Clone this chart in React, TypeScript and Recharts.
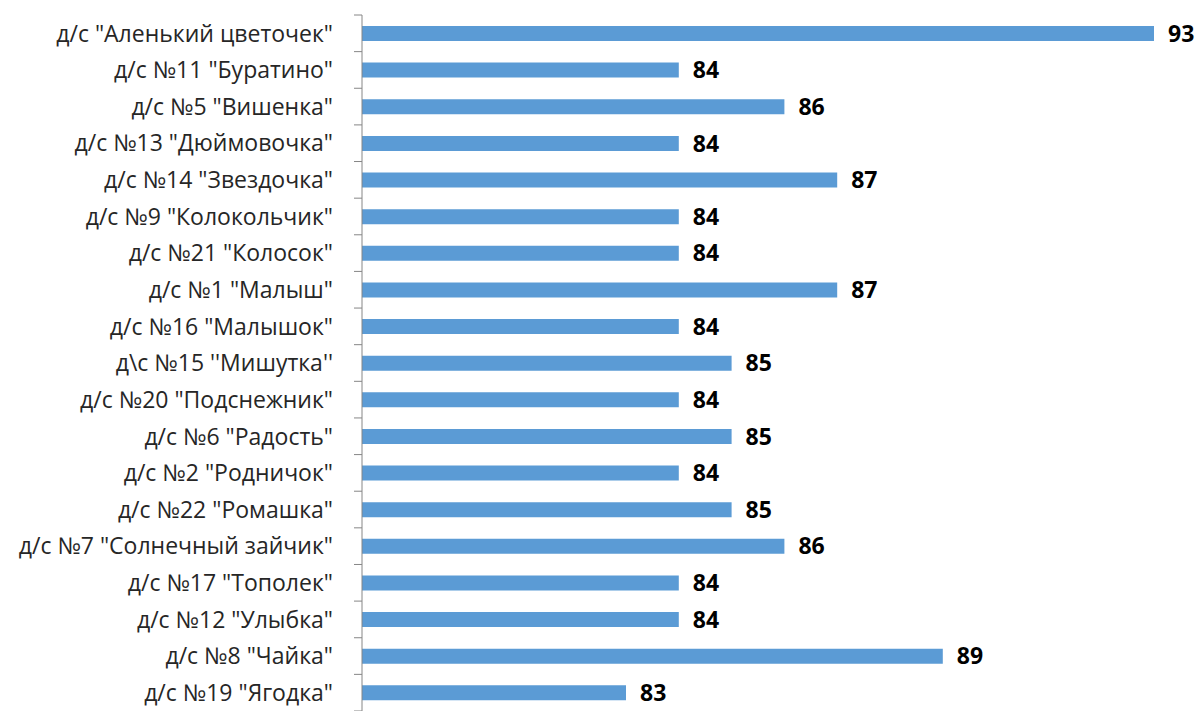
import { Bar, BarChart, LabelList, XAxis, YAxis } from "recharts";

const kindergartens = [
  'д/с "Аленький цветочек"',
  'д/с №11 "Буратино"',
  'д/с №5 "Вишенка"',
  'д/с №13 "Дюймовочка"',
  'д/с №14 "Звездочка"',
  'д/с №9 "Колокольчик"',
  'д/с №21 "Колосок"',
  'д/с №1 "Малыш"',
  'д/с №16 "Малышок"',
  "д\\с №15 ''Мишутка''",
  'д/с №20 "Подснежник"',
  'д/с №6 "Радость"',
  'д/с №2 "Родничок"',
  'д/с №22 "Ромашка"',
  'д/с №7 "Солнечный зайчик"',
  'д/с №17 "Тополек"',
  'д/с №12 "Улыбка"',
  'д/с №8 "Чайка"',
  'д/с №19 "Ягодка"',
];

const scores = [93, 84, 86, 84, 87, 84, 84, 87, 84, 85, 84, 85, 84, 85, 86, 84, 84, 89, 83];

const valueDomain: [number, number] = [78, 93];

const W = 1200;
const H = 711;
const TOP = 15;
const AXIS_W = 362;
const BAND = (H - TOP) / kindergartens.length;
const FONT = "'Open Sans', 'Noto Sans', sans-serif";

/** Category label + a tick mark at the band's upper boundary (Excel style). */
function CategoryTick(props: any) {
  const { x, y, payload, index } = props;
  const axisX = x + 29;
  return (
    <g>
      <line x1={axisX - 8} x2={axisX} y1={y - BAND / 2} y2={y - BAND / 2} stroke="#868686" />
      {index === kindergartens.length - 1 && (
        <line x1={axisX - 8} x2={axisX} y1={y + BAND / 2} y2={y + BAND / 2} stroke="#868686" />
      )}
      <text
        x={x}
        y={y}
        dy="0.36em"
        textAnchor="end"
        fill="#262626"
        fontSize={23}
        fontFamily={FONT}
      >
        {payload.value}
      </text>
    </g>
  );
}

export default function App() {
  const data = kindergartens.map((name, i) => ({ name, score: scores[i] }));

  return (
    <div style={{ position: "absolute", left: 0, top: 0, width: W, height: H, background: "#fff" }}>
      <BarChart
        width={W}
        height={H}
        data={data}
        layout="vertical"
        barCategoryGap="30%"
        margin={{ top: TOP, right: W - 1154, bottom: 0, left: 0 }}
      >
        <XAxis type="number" domain={valueDomain} allowDataOverflow hide />
        <YAxis
          type="category"
          dataKey="name"
          width={AXIS_W}
          interval={0}
          axisLine={{ stroke: "#868686" }}
          tickLine={false}
          tickSize={8}
          tickMargin={21}
          tick={<CategoryTick />}
        />
        <Bar dataKey="score" fill="#5B9BD5" isAnimationActive={false}>
          <LabelList
            dataKey="score"
            position="right"
            offset={14}
            fill="#000"
            fontSize={23}
            fontWeight="bold"
            fontFamily={FONT}
          />
        </Bar>
      </BarChart>
    </div>
  );
}
